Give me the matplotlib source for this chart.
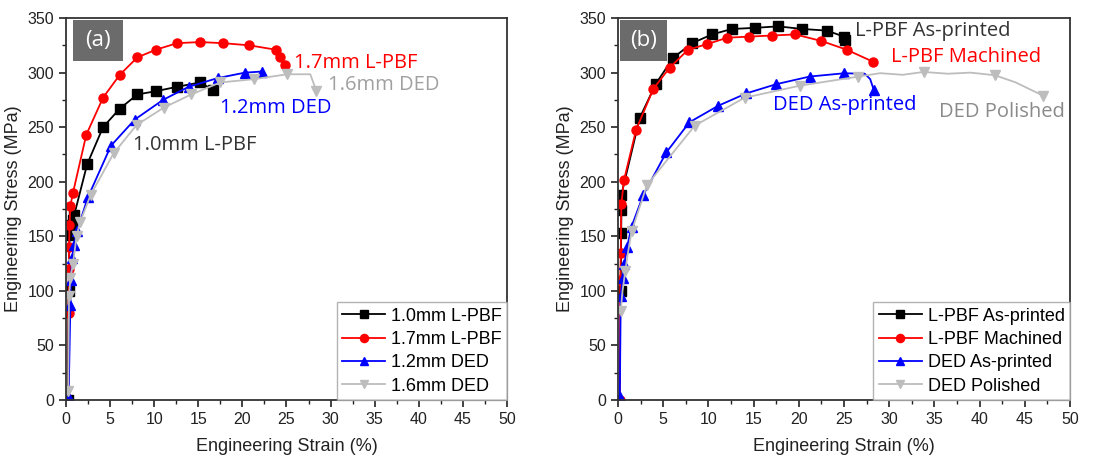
import matplotlib
matplotlib.use("Agg")
import matplotlib.pyplot as plt
from matplotlib.patches import Rectangle
from matplotlib.ticker import MultipleLocator

plt.rcParams['font.family'] = ['Liberation Sans', 'DejaVu Sans']

# ---------------- Panel (a): wire diameter comparison ----------------
a_lpbf10_strain = [0.2, 0.3, 0.4, 0.55, 0.75, 0.95, 2.4, 4.2, 6.1, 8.1, 10.2, 12.6, 15.2, 16.7]
a_lpbf10_stress = [0, 100, 151, 160, 165, 170, 216, 250, 267, 280, 283, 287, 291, 284]

a_lpbf17_strain = [0.3, 0.3, 0.32, 0.35, 0.4, 0.5, 0.8, 2.3, 4.2, 6.1, 8.1, 10.2, 12.6, 15.2,
                   17.8, 20.8, 23.8, 24.3, 24.8]
a_lpbf17_stress = [15, 80, 120, 140, 160, 178, 190, 243, 277, 298, 314, 321, 327, 328,
                   327, 325, 321, 314, 307]

a_ded12_strain = [0.3, 0.5, 0.55, 0.7, 0.9, 1.25, 2.5, 5.1, 7.8, 11.0, 13.9, 17.2, 20.3, 22.2]
a_ded12_stress = [2, 87, 110, 130, 142, 155, 186, 233, 257, 275, 287, 295, 300, 301]

a_ded16_strain = [0.25, 0.35, 0.5, 0.8, 1.2, 1.6, 2.8, 5.4, 8.0, 11.1, 14.2, 17.5, 21.3, 25.1,
                  27.7, 28.4]
a_ded16_stress = [8, 95, 112, 125, 150, 163, 188, 226, 252, 268, 280, 291, 294, 298.5,
                  298.5, 283]

a_labels = ['1.0mm L-PBF', '1.7mm L-PBF', '1.2mm DED', '1.6mm DED']

# ---------------- Panel (b): surface condition comparison ----------------
b_lpbf_ap_strain = [0.3, 0.35, 0.37, 0.37, 2.4, 4.2, 6.1, 8.2, 10.4, 12.6, 15.1, 17.7, 20.4,
                    23.1, 25.0, 25.1]
b_lpbf_ap_stress = [100, 153, 174, 188, 258.5, 290, 313.6, 327, 335, 340, 341, 342.4, 340,
                    338.5, 333, 330]

b_lpbf_m_strain = [0.2, 0.25, 0.3, 0.37, 0.66, 2.0, 3.9, 5.7, 7.75, 9.8, 12.1, 14.5, 17.0,
                   19.6, 22.5, 25.3, 28.2]
b_lpbf_m_stress = [0, 110, 135, 180, 201.5, 247.6, 285, 304.5, 321, 326, 332, 333, 334,
                   335, 329, 321, 310]

b_ded_ap_strain = [0.2, 0.3, 0.5, 0.7, 1.0, 1.5, 2.8, 5.35, 7.9, 11.1, 14.2, 17.5, 21.2, 25.0,
                   27.3, 27.9, 28.3]
b_ded_ap_stress = [3, 95, 112, 125, 140, 159, 188, 227, 254.5, 269.7, 281, 289.4, 296.4, 299.4,
                   299, 294, 284]

b_ded_pol_strain = [0.3, 0.5, 0.8, 1.1, 1.5, 3.2, 8.5, 14.0, 20.1, 26.6, 29.0, 31.5, 33.8,
                    36.5, 39.0, 41.7, 44.0, 47.0]
b_ded_pol_stress = [82, 100, 118, 135, 154.5, 197, 251.5, 277, 288, 296.4, 299.5, 298, 300.6,
                    299, 300, 297.6, 291, 279]

b_labels = ['L-PBF As-printed', 'L-PBF Machined', 'DED As-printed', 'DED Polished']

colors = ['black', '#ff0000', '#0000ff', '#bdbdbd']
markers = ['s', 'o', '^', 'v']

fig = plt.figure(figsize=(11.05, 4.63), dpi=100)
ax_a = fig.add_axes([0.0597, 0.136, 0.3991, 0.825])
ax_b = fig.add_axes([0.5593, 0.136, 0.4090, 0.825])

a_series = [(a_lpbf10_strain, a_lpbf10_stress), (a_lpbf17_strain, a_lpbf17_stress),
            (a_ded12_strain, a_ded12_stress), (a_ded16_strain, a_ded16_stress)]
b_series = [(b_lpbf_ap_strain, b_lpbf_ap_stress), (b_lpbf_m_strain, b_lpbf_m_stress),
            (b_ded_ap_strain, b_ded_ap_stress), (b_ded_pol_strain, b_ded_pol_stress)]

# which samples carry a symbol (the rest are plain line vertices)
a_markevery = [None,
               list(range(1, len(a_lpbf17_strain))),
               None,
               [i for i in range(len(a_ded16_strain)) if i != 14]]
b_markevery = [None, None,
               [i for i in range(len(b_ded_ap_strain)) if i not in (14, 15)],
               [0, 2, 4, 5, 6, 7, 8, 9, 12, 15, 17]]

panels = [(ax_a, a_series, a_labels, a_markevery),
          (ax_b, b_series, b_labels, b_markevery)]

for ax, series, labels, mevery in panels:
    for (x, y), lab, c, m, me in zip(series, labels, colors, markers, mevery):
        ax.plot(x, y, color=c, marker=m, markersize=6.5, linewidth=1.3, label=lab,
                markevery=me)
    ax.set_xlim(0, 50)
    ax.set_ylim(0, 350)
    ax.xaxis.set_major_locator(MultipleLocator(5))
    ax.xaxis.set_minor_locator(MultipleLocator(2.5))
    ax.yaxis.set_major_locator(MultipleLocator(50))
    ax.yaxis.set_minor_locator(MultipleLocator(25))
    ax.tick_params(which='both', direction='out', top=False, right=False,
                   labelsize=11.5, colors='#222222')
    ax.tick_params(which='major', length=5, width=1.2)
    ax.tick_params(which='minor', length=3, width=1.0)
    for s in ax.spines.values():
        s.set_linewidth(1.3)
        s.set_color('#333333')
    ax.set_xlabel('Engineering Strain (%)', fontsize=13, labelpad=8, color='#222222')
    ax.set_ylabel('Engineering Stress (MPa)', fontsize=13, labelpad=4, color='#222222')
    leg = ax.legend(loc='lower right', fontsize=13, frameon=True, fancybox=False,
                    borderaxespad=0.0, handlelength=2.4, handletextpad=0.3,
                    labelspacing=0.35, borderpad=0.3, markerscale=0.9)
    leg.get_frame().set_edgecolor('#a0a0a0')
    leg.get_frame().set_linewidth(1.0)

# panel tags in dark boxes
for ax, tag, x0, x1 in [(ax_a, '(a)', 0.016, 0.129), (ax_b, '(b)', 0.005, 0.108)]:
    ax.add_patch(Rectangle((x0, 0.887), x1 - x0, 0.108, transform=ax.transAxes,
                           facecolor='#6b6b6b', edgecolor='none', zorder=5))
    ax.text((x0 + x1) / 2, 0.941, tag, transform=ax.transAxes, fontsize=16,
            color='white', family=['Open Sans', 'DejaVu Sans'], va='center',
            ha='center', zorder=6)

lab_font = ['Open Sans', 'DejaVu Sans']
lab_size = 14.5
ax_a.text(25.9, 309, '1.7mm L-PBF', color='#ff0000', fontsize=lab_size, family=lab_font,
          va='center')
ax_a.text(29.7, 289, '1.6mm DED', color='#a0a0a0', fontsize=lab_size, family=lab_font,
          va='center')
ax_a.text(17.5, 268, '1.2mm DED', color='#0000ff', fontsize=lab_size, family=lab_font,
          va='center')
ax_a.text(7.6, 234, '1.0mm L-PBF', color='#333333', fontsize=lab_size, family=lab_font,
          va='center')

ax_b.text(26.2, 338, 'L-PBF As-printed', color='#333333', fontsize=lab_size, family=lab_font,
          va='center')
ax_b.text(30.2, 314, 'L-PBF Machined', color='#ff0000', fontsize=lab_size, family=lab_font,
          va='center')
ax_b.text(17.2, 270, 'DED As-printed', color='#0000ff', fontsize=lab_size, family=lab_font,
          va='center')
ax_b.text(35.5, 264, 'DED Polished', color='#8a8a8a', fontsize=lab_size, family=lab_font,
          va='center')

fig.savefig('out.png', dpi=100, facecolor='white')
